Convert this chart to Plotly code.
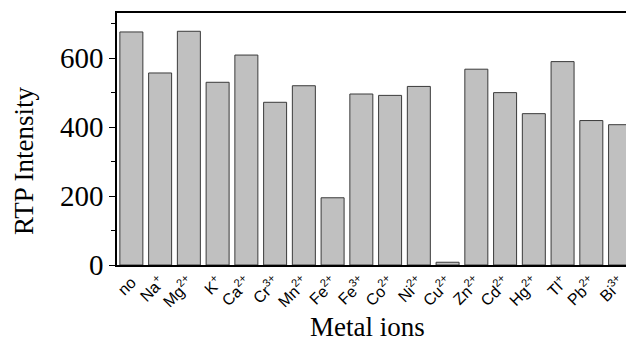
import plotly.graph_objects as go

ions = ["no", "Na<sup>+</sup>", "Mg<sup>2+</sup>", "K<sup>+</sup>", "Ca<sup>2+</sup>", "Cr<sup>3+</sup>",
        "Mn<sup>2+</sup>", "Fe<sup>2+</sup>", "Fe<sup>3+</sup>", "Co<sup>2+</sup>", "Ni<sup>2+</sup>",
        "Cu<sup>2+</sup>", "Zn<sup>2+</sup>", "Cd<sup>2+</sup>", "Hg<sup>2+</sup>", "Tl<sup>+</sup>",
        "Pb<sup>2+</sup>", "Bi<sup>3+</sup>"]
intensity = [676, 557, 678, 530, 609, 472, 520, 195, 496, 492, 518, 8, 568, 500, 439, 590, 419, 407]
y_ticks = [0, 200, 400, 600]
y_minor = [100, 300, 500, 700]

serif = "Liberation Serif, Times New Roman, serif"

fig = go.Figure(go.Bar(
    x=list(range(len(ions))), y=intensity,
    marker=dict(color="#c0c0c0", line=dict(color="#3a3a3a", width=1)),
    width=0.8,
))

# the page body adds an 8px margin, so the figure is sized to fit inside the window
fig.update_layout(
    width=626, height=333,
    margin=dict(l=109, r=1, t=5, b=76),
    plot_bgcolor="white", paper_bgcolor="white",
    showlegend=False,
    xaxis=dict(
        automargin=False,
        range=[-0.5, 17.45],
        tickmode="array", tickvals=list(range(len(ions))), ticktext=ions,
        tickangle=-45, ticks="", showgrid=False,
        showline=True, linecolor="black", linewidth=1.5, mirror=True,
        tickfont=dict(family="Liberation Sans, Arial", size=16, color="black"),
    ),
    yaxis=dict(
        automargin=False,
        range=[0, 731],
        tickmode="array", tickvals=y_ticks,
        ticks="outside", ticklen=6, tickwidth=1.2, tickcolor="black",
        minor=dict(tickmode="array", tickvals=y_minor, ticks="outside", ticklen=4, tickcolor="black"),
        showgrid=False, zeroline=False,
        showline=True, linecolor="black", linewidth=1.5, mirror=True,
        tickfont=dict(family=serif, size=29, color="black"),
    ),
    annotations=[
        dict(text="Metal ions", xref="paper", yref="paper", x=0.486, y=-0.246,
             xanchor="center", yanchor="middle", showarrow=False,
             font=dict(family=serif, size=27, color="black")),
        dict(text="RTP Intensity", xref="paper", yref="paper", x=-0.180, y=0.413,
             xanchor="center", yanchor="middle", showarrow=False, textangle=-90,
             font=dict(family=serif, size=27, color="black")),
    ],
)

fig.write_html("out.html")
